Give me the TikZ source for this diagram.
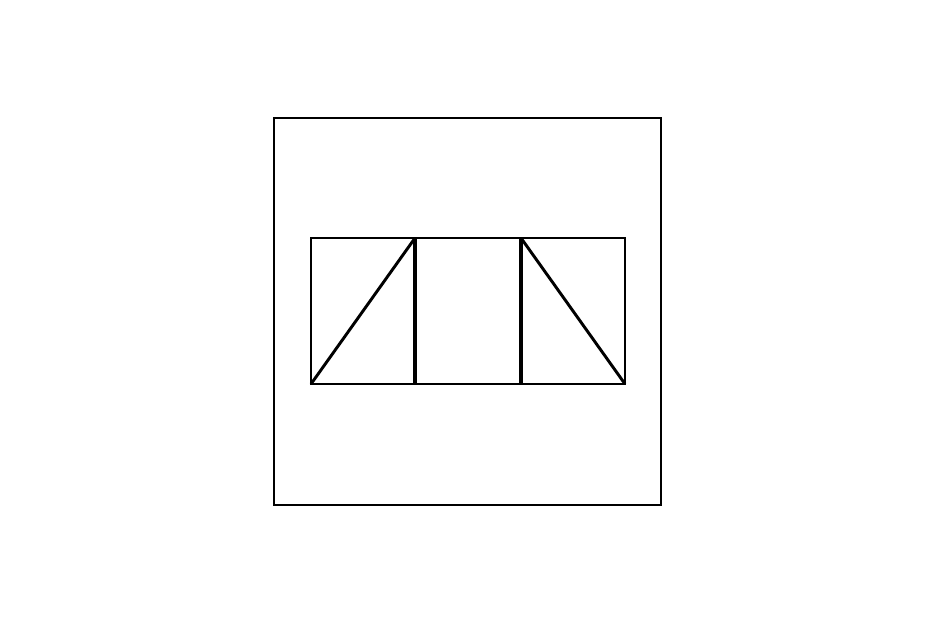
\documentclass[tikz,border=0pt]{standalone}
\begin{document}
\begin{tikzpicture}[x=0.75pt,y=-0.75pt,
  edge/.style={line width=2.2pt,line join=miter},
  midedge/.style={line width=2.8pt}]
\useasboundingbox (0,0) rectangle (938,625);
\draw[edge] (274,118) rectangle (661,505);
\draw[edge] (311,238) rectangle (625,384);
\coordinate (bl) at (311,384);
\coordinate (t1) at (415,238);
\coordinate (b1) at (415,384);
\coordinate (t2) at (521,238);
\coordinate (b2) at (521,384);
\coordinate (br) at (625,384);
\draw[midedge] (t1) -- (b1);
\draw[midedge] (t2) -- (b2);
\draw[edge] (bl) -- (t1);
\draw[edge] (t2) -- (br);
\end{tikzpicture}
\end{document}
